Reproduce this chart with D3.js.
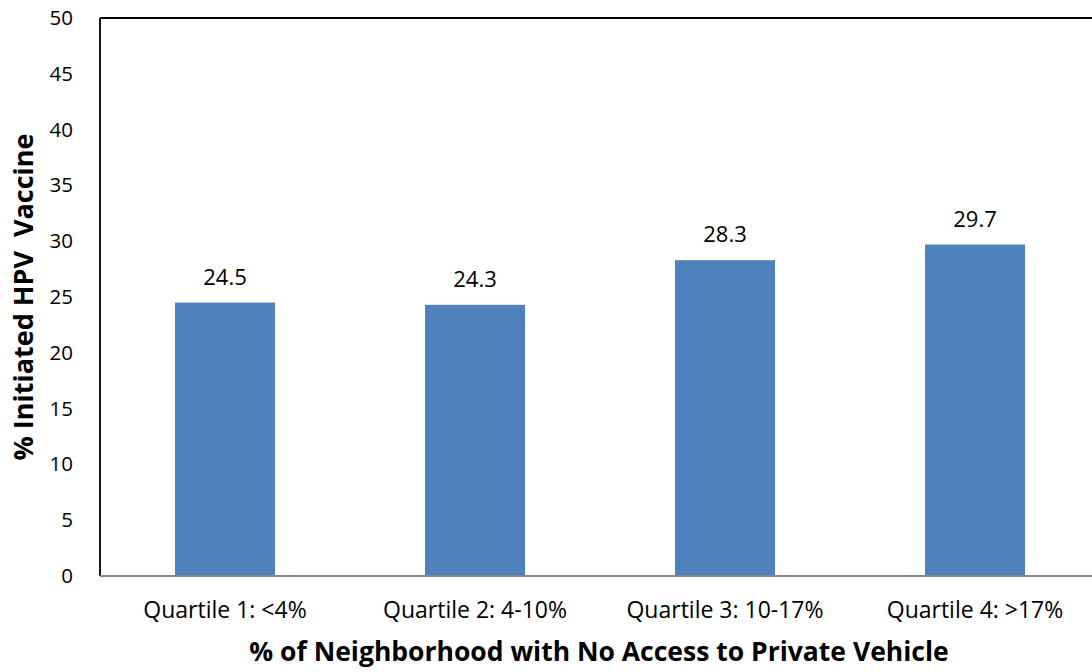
<!DOCTYPE html>
<html>
<head>
<meta charset="utf-8">
<script src="https://cdn.jsdelivr.net/npm/d3@7"></script>
<style>
  html, body { margin: 0; padding: 0; background: #fff; }
  svg { display: block; }
  text { font-family: "Open Sans", sans-serif; fill: #000; }
</style>
</head>
<body>
<svg id="chart" width="1092" height="672"></svg>
<script>
// Share of adolescents who initiated the HPV vaccine, by neighborhood vehicle access quartile
const categories = ["Quartile 1: <4%", "Quartile 2: 4-10%", "Quartile 3: 10-17%", "Quartile 4: >17%"];
const values = [24.5, 24.3, 28.3, 29.7];
const yTicks = [0, 5, 10, 15, 20, 25, 30, 35, 40, 45, 50];

const FONT = "'Open Sans', sans-serif";
const svg = d3.select("#chart");
const plotLeft = 100, plotRight = 1100, plotTop = 18, plotBottom = 576;

const x = d3.scaleBand().domain(categories).range([plotLeft, plotRight]).paddingInner(0.6).paddingOuter(0.3);
const y = d3.scaleLinear().domain([0, 50]).range([plotBottom, plotTop]);

// Bars
svg.append("g").selectAll("rect").data(values).join("rect")
  .attr("x", (d, i) => x(categories[i]))
  .attr("y", d => y(d))
  .attr("width", x.bandwidth())
  .attr("height", d => y(0) - y(d))
  .attr("fill", "#4f81bd");

// Value labels
svg.append("g").selectAll("text").data(values).join("text")
  .attr("x", (d, i) => x(categories[i]) + x.bandwidth() / 2)
  .attr("y", d => y(d) - 18)
  .attr("text-anchor", "middle")
  .attr("font-size", 22)
  .text(d => d.toFixed(1));

// Y axis
const yAxis = svg.append("g").attr("transform", `translate(${plotLeft},0)`)
  .call(d3.axisLeft(y).tickValues(yTicks).tickSize(0).tickPadding(27));
yAxis.select(".domain").remove();
yAxis.selectAll("text").attr("font-size", 20.5).style("font-family", FONT).attr("fill", "#000");

// X axis labels
const xAxis = svg.append("g").attr("transform", `translate(0,${plotBottom})`)
  .call(d3.axisBottom(x).tickSize(0).tickPadding(26));
xAxis.select(".domain").remove();
xAxis.selectAll("text").attr("font-size", 23).style("font-family", FONT).attr("fill", "#000");

// Frame: top and left in black, baseline in gray
svg.append("line").attr("x1", plotLeft).attr("x2", plotRight).attr("y1", plotTop).attr("y2", plotTop)
  .attr("stroke", "#000").attr("stroke-width", 1.8);
svg.append("line").attr("x1", plotLeft).attr("x2", plotLeft).attr("y1", plotTop).attr("y2", plotBottom)
  .attr("stroke", "#000").attr("stroke-width", 1.8);
svg.append("line").attr("x1", plotLeft).attr("x2", plotRight).attr("y1", plotBottom).attr("y2", plotBottom)
  .attr("stroke", "#868686").attr("stroke-width", 2);

// Axis titles
svg.append("text")
  .attr("transform", `translate(33,${(plotTop + plotBottom) / 2}) rotate(-90)`)
  .attr("text-anchor", "middle")
  .attr("font-size", 27).attr("font-weight", "bold")
  .style("white-space", "pre")
  .text("% Initiated HPV  Vaccine");

svg.append("text")
  .attr("x", 599).attr("y", 661)
  .attr("text-anchor", "middle")
  .attr("font-size", 26.5).attr("font-weight", "bold")
  .text("% of Neighborhood with No Access to Private Vehicle");
</script>
</body>
</html>
